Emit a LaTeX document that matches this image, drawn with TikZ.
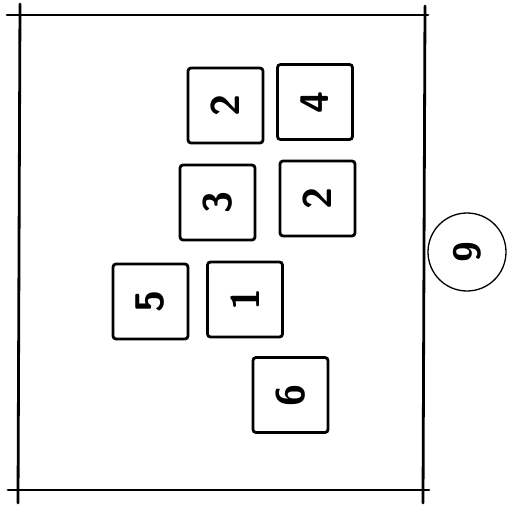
\documentclass[tikz,border=0pt]{standalone}
\usepackage{tikz}
\usetikzlibrary{positioning}

\begin{document}
\begin{tikzpicture}[
    x=1pt, y=-1pt,
    tile/.style={rectangle, draw, line width=2.8pt, rounded corners=3pt, minimum size=75pt, inner sep=0pt, rotate=90, font=\sffamily\bfseries\fontsize{40}{40}\selectfont},
    marker/.style={circle, draw, line width=1.3pt, minimum size=78pt, inner sep=0pt, rotate=90, font=\sffamily\bfseries\fontsize{38}{38}\selectfont},
    frame/.style={line width=2.8pt, line cap=round}
]
\useasboundingbox (0,0) rectangle (507,509);

% Frame
\draw[frame] (7,15) -- (428,15);
\draw[frame] (8,490) -- (429,490);
\draw[frame] (20,4) -- (18,503);
\draw[frame] (425,6) -- (423,503);

% Tiles
\node[tile] (twoA) at (225.5,105.5) {2};
\node[tile] (four) at (315,102) {4};
\node[tile] (three) at (217.5,202.5) {3};
\node[tile] (twoB) at (317.5,198.5) {2};
\node[tile] (five) at (150.5,301.5) {5};
\node[tile] (one) at (245,299.5) {1};
\node[tile] (six) at (290.5,395) {6};

% Outside marker
\node[marker] (nine) at (467,252) {9};

\end{tikzpicture}
\end{document}
